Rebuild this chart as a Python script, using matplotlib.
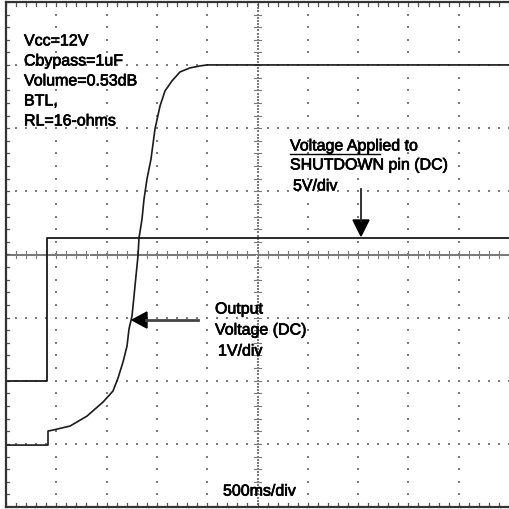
import numpy as np
import matplotlib.pyplot as plt
import matplotlib.patheffects as pe
from matplotlib.patches import Polygon

# scope screen: 10 divisions across (500ms/div), 8 divisions high
t_div = [0, 0.835, 0.835, 0.934, 1.272, 1.610, 1.928, 2.127, 2.227, 2.326, 2.406,
         2.445, 2.505, 2.545, 2.584, 2.624, 2.644, 2.704, 2.744, 2.803, 2.883,
         2.962, 3.062, 3.161, 3.300, 3.459, 3.658, 3.857, 3.996, 10.0]
out_div = [-3.019, -3.019, -2.797, -2.781, -2.718, -2.560, -2.338, -2.163, -1.957,
           -1.704, -1.450, -1.181, -0.975, -0.658, -0.341, -0.024, 0.261, 0.562,
           0.879, 1.196, 1.513, 1.989, 2.353, 2.591, 2.750, 2.892, 2.956, 2.987,
           3.003, 3.003]
sd_t = [0, 0.815, 0.815, 10.0]
sd_div = [-2.0, -2.0, 0.26, 0.26]

notes = ['Vcc=12V', 'Cbypass=1uF', 'Volume=0.53dB', 'BTL,', 'RL=16-ohms']

plt.rcParams['font.family'] = ['Liberation Sans', 'DejaVu Sans']
fig = plt.figure(figsize=(5.09, 5.10), dpi=100)
ax = fig.add_axes([6/509, 2/510, 503/509, 505/510])
ax.set_xlim(0, 10)
ax.set_ylim(-4, 4)
ax.set_xticks([])
ax.set_yticks([])
for s in ['top', 'left', 'bottom']:
    ax.spines[s].set_color('#333333')
    ax.spines[s].set_linewidth(1.6)
ax.spines['right'].set_visible(False)

gcol = '#7a7a7a'
# dotted graticule
xs = np.arange(0, 10.01, 0.2)
ys = np.arange(-4, 4.01, 0.2)
for y in range(-3, 4):
    if y == 0:
        continue
    ax.scatter(xs, np.full_like(xs, y), s=1.4, c=gcol, marker='s', linewidths=0)
for x in range(1, 10):
    if x == 5:
        continue
    ax.scatter(np.full_like(ys, x), ys, s=1.4, c=gcol, marker='s', linewidths=0)

# centre cross with fine ticks
fx = np.arange(0, 10.01, 0.04)
fy = np.arange(-4, 4.01, 0.05)
ax.scatter(fx, np.zeros_like(fx), s=0.8, c=gcol, marker='s', linewidths=0)
ax.scatter(np.full_like(fy, 5), fy, s=0.8, c=gcol, marker='s', linewidths=0)
for x in xs:
    ax.plot([x, x], [-0.05, 0.05], color=gcol, lw=0.8)
for y in ys:
    ax.plot([4.93, 5.07], [y, y], color=gcol, lw=0.8)

# border ticks
for x in xs:
    ax.plot([x, x], [3.93, 4.0], color='#555555', lw=0.9)
    ax.plot([x, x], [-4.0, -3.93], color='#555555', lw=0.9)
for y in ys:
    ax.plot([0, 0.06], [y, y], color='#555555', lw=0.9)

# traces
ax.plot(sd_t, sd_div, color='#1a1a1a', lw=1.3)
ax.plot(t_div, out_div, color='#1a1a1a', lw=1.2)


def px(x):
    return (x - 6) / 50.3


def py(y):
    return (255.5 - y) / 63.1


fs = 11.5
bold = [pe.withStroke(linewidth=0.5, foreground='black')]


def label(x, y, s):
    ax.text(px(x), py(y), s, fontsize=fs, va='center', ha='left',
            color='black', path_effects=bold)


for i, s in enumerate(notes):
    label(24, 42 + 20 * i, s)

label(290, 147, 'Voltage Applied to')
ax.plot([px(290), px(380)], [py(155.5)] * 2, color='black', lw=1.0)
label(290, 166, 'SHUTDOWN pin (DC)')
label(293, 187, '5V/div')

label(215, 310, 'Output')
label(215, 331, 'Voltage (DC)')
label(218, 352, '1V/div')
label(223, 492, '500ms/div')

# arrows
ax.plot([px(361), px(361)], [py(190), py(222)], color='#222222', lw=1.3)
ax.add_patch(Polygon([[px(353), py(221)], [px(369), py(221)], [px(361), py(237)]],
                     closed=True, color='black'))
ax.plot([px(146), px(198)], [py(321), py(321)], color='#444444', lw=2.0)
ax.add_patch(Polygon([[px(132), py(321)], [px(147), py(313)], [px(147), py(329)]],
                     closed=True, color='black'))

fig.savefig('out.png', dpi=100)
